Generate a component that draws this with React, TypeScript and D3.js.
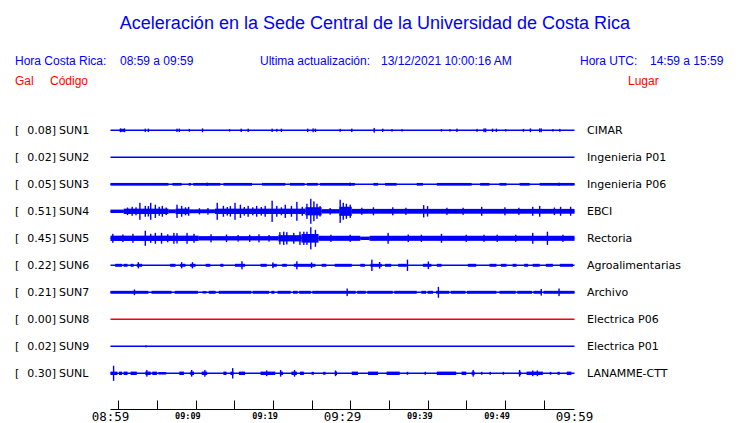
import React from 'react';
import * as d3 from 'd3';

const W = 740;
const H = 423;
const HDR_FONT = '"Liberation Sans", Arial, sans-serif';
const LBL_FONT = '"DejaVu Sans", Verdana, sans-serif';
const MONO_FONT = '"DejaVu Sans Mono", monospace';
const BLUE = '#0000ff';
const RED = '#ff0000';

const title = 'Aceleración en la Sede Central de la Universidad de Costa Rica';
const localRange = '08:59 a 09:59';
const utcRange = '14:59 a 15:59';
const updated = '13/12/2021 10:00:16 AM';

// estaciones
const codes = ['SUN1', 'SUN2', 'SUN3', 'SUN4', 'SUN5', 'SUN6', 'SUN7', 'SUN8', 'SUN9', 'SUNL'];
const peaks = [0.08, 0.02, 0.05, 0.51, 0.45, 0.22, 0.21, 0.0, 0.02, 0.3];
const places = ['CIMAR', 'Ingenieria P01', 'Ingenieria P06', 'EBCI', 'Rectoria', 'Agroalimentarias', 'Archivo', 'Electrica P06', 'Electrica P01', 'LANAMME-CTT'];
const traceColors = [BLUE, BLUE, BLUE, BLUE, BLUE, BLUE, BLUE, RED, BLUE, BLUE];

const tickLabels = ['08:59', '09:09', '09:19', '09:29', '09:39', '09:49', '09:59'];
const bigTickLabels = ['08:59', '09:29', '09:59'];

// bandas de ruido: [minuto inicio, minuto fin, Gal]
const sun1Bands: [number, number, number][] = [[1.2, 1.9, 0.05]];
const sun2Bands: [number, number, number][] = [];
const sun3Bands: [number, number, number][] = [
  [0, 7.5, 0.045], [8, 9.2, 0.045], [10.1, 10.4, 0.045], [10.7, 14.2, 0.045], [14.6, 18.3, 0.045],
  [19.6, 22.6, 0.045], [23.2, 25.1, 0.045], [25.4, 26.8, 0.045], [27.1, 31.6, 0.045], [34, 34.6, 0.045],
  [35.5, 37, 0.045], [39.6, 40.4, 0.045], [42.2, 46.7, 0.045], [47.8, 49, 0.045], [50.3, 51.2, 0.045],
  [52.9, 54.2, 0.045], [55.5, 60, 0.045],
];
const sun4Bands: [number, number, number][] = [
  [0, 1.7, 0.06], [1.7, 7.5, 0.1], [7.5, 8.4, 0.07], [8.4, 10.2, 0.1], [10.2, 13.5, 0.07],
  [13.5, 25.2, 0.1], [25.2, 27.3, 0.16], [27.3, 29.6, 0.08], [29.6, 31.2, 0.18], [31.2, 60, 0.09],
];
const sun5Bands: [number, number, number][] = [
  [0, 11.4, 0.1], [11.4, 21.7, 0.08], [21.7, 24.7, 0.12], [24.7, 26.9, 0.17],
  [26.9, 32.3, 0.095], [32.3, 33.5, 0.06], [33.5, 60, 0.095],
];
const sun6Bands: [number, number, number][] = [
  [0.6, 1.5, 0.05], [1.7, 2.2, 0.05], [2.6, 3, 0.05], [3.4, 4.1, 0.05], [7.7, 8.4, 0.05],
  [9, 9.7, 0.05], [10.3, 11, 0.05], [12.3, 12.9, 0.05], [14.2, 14.6, 0.05], [16.1, 17.4, 0.05],
  [19.4, 20.2, 0.05], [20.9, 21.5, 0.05], [22.2, 22.8, 0.05], [23.7, 26.5, 0.05], [27.3, 27.9, 0.05],
  [29, 31.2, 0.05], [32.3, 32.9, 0.05], [33.6, 35.1, 0.05], [35.5, 36.3, 0.05], [37.2, 38.3, 0.05],
  [40.4, 41.5, 0.05], [42.2, 42.8, 0.05], [46.2, 47.3, 0.05], [49, 49.9, 0.05], [50.5, 51.2, 0.05],
  [52, 52.5, 0.05], [53.5, 54, 0.05], [54.6, 55.5, 0.05], [56.3, 57.2, 0.05], [58.1, 59.8, 0.05],
];
const sun7Bands: [number, number, number][] = [
  [0, 4.9, 0.05], [5.3, 7.9, 0.05], [8.3, 11.3, 0.05], [11.9, 12.4, 0.04], [12.7, 13.6, 0.05],
  [14, 18.2, 0.05], [18.4, 20.5, 0.05], [20.8, 21.2, 0.05], [21.6, 23.3, 0.05], [23.6, 24.2, 0.05],
  [24.4, 25.9, 0.05], [26.1, 31.7, 0.05], [31.9, 33, 0.05], [33.2, 36.5, 0.05], [36.7, 39.6, 0.05],
  [40.2, 40.8, 0.05], [41, 41.7, 0.05], [42.1, 43.8, 0.05], [44, 45.9, 0.05], [46.1, 49.9, 0.05],
  [50.3, 52.4, 0.05], [52.6, 54.5, 0.05], [54.7, 55.8, 0.05], [56, 60, 0.05],
];
const sun8Bands: [number, number, number][] = [];
const sun9Bands: [number, number, number][] = [];
const sunlBands: [number, number, number][] = [
  [0, 0.9, 0.06], [1.1, 1.5, 0.06], [1.7, 2.2, 0.06], [2.6, 3.4, 0.06], [4.5, 5.2, 0.06],
  [5.4, 6, 0.06], [6.2, 7.2, 0.04], [8.9, 9.5, 0.06], [10.3, 10.8, 0.06], [11.8, 12.5, 0.06],
  [14.6, 15, 0.06], [15.5, 15.9, 0.06], [16.6, 17.4, 0.06], [19.4, 21.3, 0.06], [21.9, 22.3, 0.06],
  [23.4, 24.1, 0.06], [24.5, 25, 0.06], [26, 26.3, 0.05], [27.5, 27.8, 0.05], [29, 29.3, 0.06],
  [31.2, 32, 0.06], [33.3, 34.6, 0.06], [35.7, 37.4, 0.06], [38.3, 38.5, 0.05], [40.6, 40.8, 0.05],
  [42.2, 44.7, 0.06], [45.4, 46, 0.06], [46.7, 47.1, 0.06], [47.9, 48.1, 0.05], [49, 49.2, 0.05],
  [50.7, 50.9, 0.05], [52.8, 53.1, 0.06], [53.8, 55.9, 0.06], [56.8, 57, 0.05], [57.8, 58.1, 0.05],
  [59, 59.6, 0.06],
];

// picos: [minuto, Gal]
const sun1Spikes: [number, number][] = [
  [1.3, 0.06], [1.8, 0.06], [4.5, 0.05], [4.9, 0.05], [8.6, 0.05], [8.9, 0.05], [10.2, 0.04],
  [11.9, 0.06], [15.4, 0.03], [16.9, 0.05], [17.8, 0.05], [20.9, 0.05], [21.5, 0.04], [22.1, 0.05],
  [25.5, 0.05], [26.2, 0.06], [26.5, 0.05], [29.7, 0.04], [31.2, 0.05], [34.1, 0.08], [35.2, 0.05],
  [36.4, 0.03], [37.7, 0.03], [42.8, 0.03], [43.9, 0.03], [44.8, 0.05], [47.4, 0.04], [48.3, 0.06],
  [48.5, 0.06], [49.4, 0.05], [49.9, 0.05], [51.1, 0.03], [53.4, 0.04], [54.3, 0.06], [55.5, 0.06],
  [55.7, 0.06], [57.2, 0.03], [58.1, 0.04],
];
const sun2Spikes: [number, number][] = [];
const sun3Spikes: [number, number][] = [[12.5, 0.05], [31, 0.05], [58, 0.05]];
const sun4Spikes: [number, number][] = [
  [2.2, 0.14], [2.8, 0.17], [3.3, 0.15], [3.8, 0.34], [4.5, 0.21], [4.9, 0.2], [5.2, 0.34], [5.8, 0.26],
  [6.3, 0.17], [6.7, 0.21], [7.2, 0.14], [8.6, 0.26], [9.2, 0.21], [9.7, 0.15], [10.1, 0.17],
  [11.5, 0.11], [12.6, 0.12], [13.8, 0.34], [14.6, 0.21], [15.1, 0.16], [15.5, 0.2], [16.1, 0.34],
  [16.8, 0.26], [17.3, 0.16], [17.8, 0.21], [18.4, 0.15], [18.9, 0.21], [19.5, 0.16], [20, 0.21],
  [20.9, 0.43], [21.5, 0.21], [22.1, 0.15], [22.6, 0.26], [23.4, 0.21], [24.1, 0.38], [24.8, 0.17],
  [25.4, 0.3], [25.9, 0.51], [26.3, 0.4], [26.7, 0.3], [27.1, 0.2], [28.4, 0.12], [29.7, 0.47],
  [30.1, 0.34], [30.5, 0.3], [31, 0.26], [32.5, 0.13], [34, 0.15], [36.5, 0.15], [38.2, 0.13],
  [40.5, 0.24], [41, 0.2], [43.5, 0.13], [45.6, 0.13], [48, 0.17], [51, 0.15], [52.8, 0.13],
  [54.6, 0.17], [55.5, 0.21], [57.4, 0.14], [58.2, 0.17], [59.5, 0.17],
];
const sun5Spikes: [number, number][] = [
  [0.3, 0.17], [1.6, 0.14], [2.9, 0.17], [4.5, 0.3], [5.2, 0.17], [5.8, 0.21], [6.6, 0.21], [7.4, 0.15],
  [8.2, 0.21], [8.6, 0.2], [9.9, 0.21], [10.8, 0.17], [13, 0.15], [15, 0.14], [16.5, 0.12], [18, 0.13],
  [19.2, 0.15], [20.5, 0.12], [21.9, 0.24], [22.4, 0.26], [22.8, 0.24], [23.7, 0.21], [24.5, 0.26],
  [25, 0.26], [25.4, 0.26], [25.9, 0.45], [26.5, 0.34], [28.5, 0.13], [31, 0.13], [35.9, 0.21],
  [38.5, 0.14], [40.2, 0.13], [42.8, 0.17], [46, 0.13], [48.3, 0.13], [50, 0.13], [52.4, 0.13],
  [54.6, 0.21], [56.5, 0.26], [58.5, 0.13],
];
const sun6Spikes: [number, number][] = [
  [3.6, 0.11], [9.2, 0.11], [10.6, 0.11], [17, 0.15], [21, 0.1], [24.1, 0.15], [26, 0.1],
  [33.8, 0.22], [34.8, 0.12], [38.4, 0.22], [41.1, 0.14],
];
const sun7Spikes: [number, number][] = [[3.1, 0.1], [30.6, 0.14], [42.4, 0.21], [55.7, 0.12], [58, 0.14]];
const sun8Spikes: [number, number][] = [];
const sun9Spikes: [number, number][] = [[4.6, 0.02]];
const sunlSpikes: [number, number][] = [
  [0.4, 0.3], [4.7, 0.12], [10.5, 0.12], [12.2, 0.12], [15.8, 0.2], [20.2, 0.1], [22, 0.12],
  [23.8, 0.12], [29.1, 0.1], [46.9, 0.12], [52.9, 0.12], [54.6, 0.1], [55.2, 0.1],
];

const bands = [sun1Bands, sun2Bands, sun3Bands, sun4Bands, sun5Bands, sun6Bands, sun7Bands, sun8Bands, sun9Bands, sunlBands];
const spikes = [sun1Spikes, sun2Spikes, sun3Spikes, sun4Spikes, sun5Spikes, sun6Spikes, sun7Spikes, sun8Spikes, sun9Spikes, sunlSpikes];

const parseHM = d3.timeParse('%H:%M');
const t0 = parseHM('08:59')!;
const t1 = parseHM('09:59')!;
const atMin = (m: number) => new Date(t0.getTime() + m * 60000);

const App: React.FC = () => {
  const x = d3.scaleTime().domain([t0, t1]).range([110.5, 574.5]);
  const y = d3.scalePoint<string>().domain(codes).range([130.3, 373.3]);
  // amplitud en Gal -> pixeles (escala común para todas las estaciones)
  const amp = d3.scaleLinear().domain([0, 0.51]).range([0, 12]);
  const axisY = 409.5;
  const minorTicks = d3.timeMinute.every(5)!.range(t0, atMin(60.5));

  return (
    <svg width={W} height={H} style={{ position: 'absolute', left: 0, top: 0, background: '#fff' }}>
      <text x={W / 2 + 5} y={29} textAnchor="middle" fill={BLUE} fontFamily={HDR_FONT} fontSize={18}>{title}</text>

      <g fontFamily={HDR_FONT} fontSize={12} fill={BLUE}>
        <text x={15} y={65}>Hora Costa Rica:</text>
        <text x={120} y={65}>{localRange}</text>
        <text x={260} y={65}>Ultima actualización:</text>
        <text x={381} y={65}>{updated}</text>
        <text x={580} y={65}>Hora UTC:</text>
        <text x={650} y={65}>{utcRange}</text>
      </g>
      <g fontFamily={HDR_FONT} fontSize={12} fill={RED}>
        <text x={15} y={85}>Gal</text>
        <text x={50} y={85}>Código</text>
        <text x={628} y={85}>Lugar</text>
      </g>

      {codes.map((code, i) => {
        const cy = y(code)!;
        const color = traceColors[i];
        return (
          <g key={code}>
            <g fontFamily={LBL_FONT} fontSize={11} fill="#000">
              <text x={15} y={cy + 4}>[</text>
              <text x={56} y={cy + 4} textAnchor="end">{peaks[i].toFixed(2)}]</text>
              <text x={59} y={cy + 4}>{code}</text>
              <text x={587} y={cy + 4}>{places[i]}</text>
            </g>
            <line x1={x(t0)} x2={x(t1)} y1={cy} y2={cy} stroke={color} strokeWidth={1.5} />
            {bands[i].map(([a, b, g], j) => (
              <rect key={'b' + j} x={x(atMin(a))} width={x(atMin(b)) - x(atMin(a))}
                y={cy - amp(g) - 0.3} height={2 * amp(g) + 0.6} fill={color} />
            ))}
            {spikes[i].map(([m, g], j) => (
              <rect key={'s' + j} x={x(atMin(m)) - 0.7} width={1.4}
                y={cy - amp(g) - 0.5} height={2 * amp(g) + 1} fill={color} />
            ))}
          </g>
        );
      })}

      <g stroke="#000" strokeWidth={1}>
        <line x1={x(t0)} x2={x(t1)} y1={axisY} y2={axisY} />
        {minorTicks.map((d, i) => (
          <line key={i} x1={Math.round(x(d)) + 0.5} x2={Math.round(x(d)) + 0.5} y1={axisY} y2={axisY - 9} />
        ))}
      </g>
      {tickLabels.map((lab) => {
        const big = bigTickLabels.includes(lab);
        return (
          <text key={lab} x={x(parseHM(lab)!)} y={big ? 421 : 418.5} textAnchor="middle" fill="#000"
            fontFamily={MONO_FONT} fontSize={big ? 12.5 : 8.5} fontWeight={big ? 'normal' : 'bold'}>
            {lab}
          </text>
        );
      })}
    </svg>
  );
};

export default App;
